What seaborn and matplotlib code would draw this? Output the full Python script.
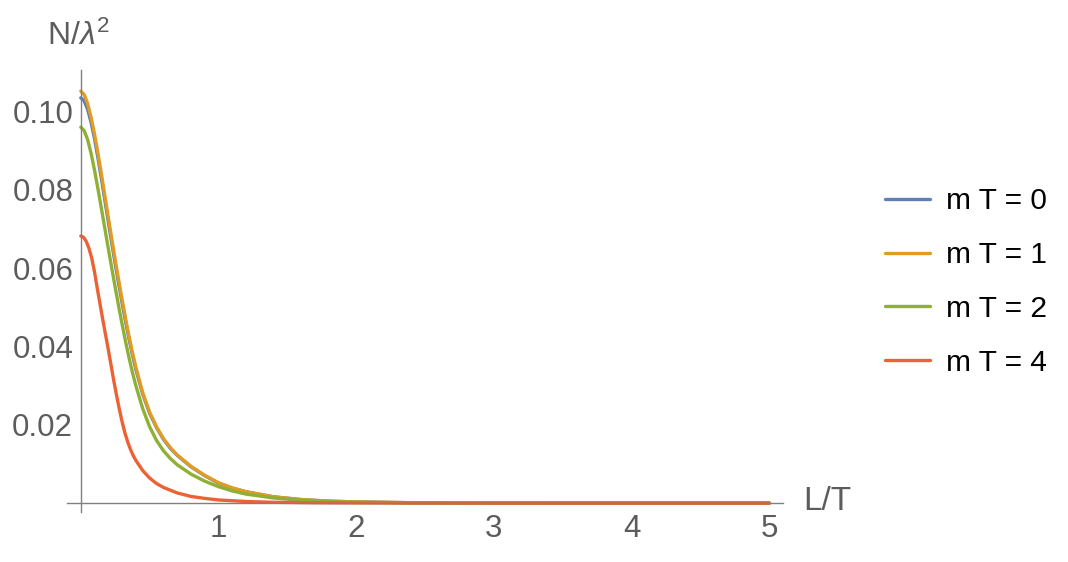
import pandas as pd
import matplotlib
matplotlib.use("Agg")
import matplotlib.pyplot as plt
import seaborn as sns
from matplotlib.ticker import MultipleLocator, FixedLocator

# values (x = L/T, y = N/lambda^2)
x_grid = [0, 0.025, 0.05, 0.075, 0.1, 0.125, 0.15, 0.175, 0.2, 0.225, 0.25, 0.275, 0.3, 0.325,
          0.35, 0.375, 0.4, 0.45, 0.5, 0.55, 0.6, 0.65, 0.7, 0.8, 0.9, 1.0, 1.1, 1.2, 1.4, 1.6,
          1.8, 2.0, 2.4, 3.0, 4.0, 5.0]

y_m0 = [0.1035, 0.1027, 0.1005, 0.0972, 0.0930, 0.0881, 0.0828, 0.0773, 0.0718, 0.0664, 0.0611,
        0.0560, 0.0511, 0.0464, 0.0420, 0.0379, 0.0341, 0.0278, 0.0229, 0.0193, 0.0163, 0.0140,
        0.0122, 0.0093, 0.0070, 0.0051, 0.0038, 0.0029, 0.0016, 0.0009, 0.0005, 0.0003, 0.0001,
        0.00002, 0.0, 0.0]

y_m1 = [0.1052, 0.1043, 0.1020, 0.0985, 0.0942, 0.0893, 0.0840, 0.0785, 0.0730, 0.0675, 0.0622,
        0.0570, 0.0520, 0.0472, 0.0427, 0.0385, 0.0347, 0.0282, 0.0232, 0.0195, 0.0165, 0.0142,
        0.0123, 0.0094, 0.0071, 0.0052, 0.0039, 0.0029, 0.0016, 0.0009, 0.0005, 0.0003, 0.0001,
        0.00002, 0.0, 0.0]

y_m2 = [0.0960, 0.0951, 0.0928, 0.0893, 0.0850, 0.0802, 0.0752, 0.0701, 0.0650, 0.0600, 0.0551,
        0.0503, 0.0457, 0.0413, 0.0372, 0.0334, 0.0300, 0.0241, 0.0195, 0.0160, 0.0134, 0.0114,
        0.0098, 0.0074, 0.0056, 0.0042, 0.0031, 0.0023, 0.0013, 0.0007, 0.0004, 0.0002, 0.00007,
        0.00001, 0.0, 0.0]

x_m4 = [0, 0.02, 0.04, 0.06, 0.08, 0.1, 0.12, 0.14, 0.16, 0.18, 0.2, 0.22, 0.24, 0.26, 0.28, 0.3,
        0.32, 0.34, 0.36, 0.38, 0.4, 0.45, 0.5, 0.55, 0.6, 0.7, 0.8, 0.9, 1.0, 1.2, 1.4, 1.7, 2.0,
        3.0, 5.0]
y_m4 = [0.0682, 0.0679, 0.0668, 0.0650, 0.0625, 0.0590, 0.0548, 0.0508, 0.0468, 0.0430, 0.0392,
        0.0352, 0.0312, 0.0275, 0.0240, 0.0208, 0.0180, 0.0157, 0.0138, 0.0122, 0.0109, 0.0083,
        0.0064, 0.0050, 0.0040, 0.0026, 0.0017, 0.0012, 0.0008, 0.0004, 0.0002, 0.00008, 0.00003,
        0.0, 0.0]

labels = ["m T = 0", "m T = 1", "m T = 2", "m T = 4"]
colors = ["#5E81B5", "#E19C24", "#8FB032", "#EB6235"]

frames = []
for lab, xs, ys in zip(labels, [x_grid, x_grid, x_grid, x_m4], [y_m0, y_m1, y_m2, y_m4]):
    frames.append(pd.DataFrame({"x": xs, "y": ys, "curve": lab}))
df = pd.concat(frames, ignore_index=True)

sns.set_style("white")
plt.rcParams["font.family"] = ["Liberation Sans", "DejaVu Sans"]
plt.rcParams["mathtext.fontset"] = "custom"
plt.rcParams["mathtext.rm"] = "Liberation Sans"
plt.rcParams["mathtext.it"] = "Liberation Sans:italic"

grey = "#5c5c5c"
fig = plt.figure(figsize=(10.68, 5.62), dpi=100)
ax = fig.add_axes([67 / 1068, 1 - 511.7 / 562, (783 - 67) / 1068, (511.7 - 70) / 562])

sns.lineplot(data=df, x="x", y="y", hue="curve", palette=colors, hue_order=labels,
             sort=False, estimator=None, linewidth=2.4, ax=ax)

ax.set_xlim(-0.1, 5.1)
ax.set_ylim(-0.0022, 0.1106)

for s in ["top", "right"]:
    ax.spines[s].set_visible(False)
for s in ["left", "bottom"]:
    ax.spines[s].set_position(("data", 0))
    ax.spines[s].set_color("#808080")
    ax.spines[s].set_linewidth(1.0)

ax.xaxis.set_major_locator(FixedLocator([1, 2, 3, 4, 5]))
ax.xaxis.set_minor_locator(MultipleLocator(0.2))
ax.yaxis.set_major_locator(FixedLocator([0.02, 0.04, 0.06, 0.08, 0.10]))
ax.yaxis.set_minor_locator(MultipleLocator(0.005))
ax.set_yticklabels(["0.02", "0.04", "0.06", "0.08", "0.10"])
ax.tick_params(which="both", direction="in", color="#808080", width=1.0,
               labelsize=22.5, labelcolor=grey)
ax.tick_params(which="major", length=4.8)
ax.tick_params(which="minor", length=2.6)
ax.tick_params(axis="x", pad=8)
ax.tick_params(axis="y", pad=5.5)
ax.set_xlabel("")
ax.set_ylabel("")

fig.text(79 / 1068, 1 - 36 / 562, r"N/$\lambda^2$", fontsize=23, color=grey,
         ha="center", va="center")
fig.text(803 / 1068, 1 - 502 / 562, "L/T", fontsize=24, color=grey,
         ha="left", va="center")

handles, labs = ax.get_legend_handles_labels()
leg = ax.legend(handles, labs, loc="center left", bbox_to_anchor=(885 / 1068, 1 - 282 / 562),
                bbox_transform=fig.transFigure, frameon=False, fontsize=21.5,
                handlelength=1.5, handletextpad=0.54, labelspacing=0.86,
                borderpad=0, borderaxespad=0)
for line in leg.get_lines():
    line.set_linewidth(2.4)
for t in leg.get_texts():
    t.set_color("black")

fig.savefig("out.png", dpi=100)
plt.close(fig)
